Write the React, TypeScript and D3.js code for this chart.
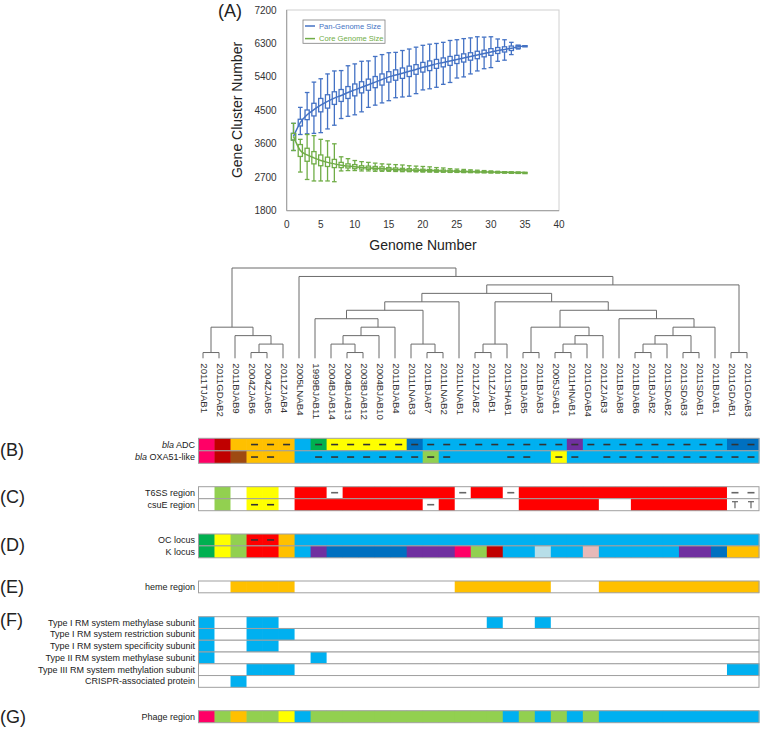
import React from "react";
import * as d3 from "d3";

// ---------- Panel A data ----------
const genomeNumbers = [1,2,3,4,5,6,7,8,9,10,11,12,13,14,15,16,17,18,19,20,21,22,23,24,25,26,27,28,29,30,31,32,33,34,35];
const panMedian = [3800,4170,4380,4520,4640,4740,4830,4900,4980,5050,5120,5190,5260,5330,5400,5450,5500,5550,5600,5660,5700,5750,5790,5830,5870,5910,5950,5990,6030,6070,6110,6140,6170,6210,6230];
const panQ3 = [3880,4260,4510,4690,4820,4920,5000,5060,5140,5210,5270,5340,5410,5480,5540,5590,5640,5690,5730,5790,5830,5870,5910,5950,5980,6020,6050,6090,6120,6160,6190,6210,6230,6250,6240];
const panQ1 = [3700,4080,4250,4350,4460,4560,4660,4740,4820,4890,4970,5040,5110,5180,5260,5310,5360,5410,5470,5530,5570,5630,5670,5710,5760,5800,5850,5890,5940,5980,6030,6070,6110,6170,6220];
const panMax = [4150,4580,4980,5260,5350,5480,5560,5570,5700,5750,5820,5830,5950,6000,6050,6060,6110,6150,6200,6250,6280,6300,6330,6380,6400,6430,6450,6480,6470,6480,6420,6400,6330,6250,6230];
const panMin = [3420,3850,3870,3880,3900,4000,4100,4280,4340,4380,4460,4580,4640,4700,4760,4840,4860,4880,4950,5050,5080,5120,5200,5250,5370,5400,5480,5560,5620,5650,5820,5850,6000,6150,6230];

const coreMedian = [3800,3420,3300,3220,3150,3100,3060,3020,3000,2980,2960,2950,2940,2930,2920,2910,2900,2895,2890,2885,2880,2875,2870,2865,2860,2855,2850,2845,2840,2838,2835,2833,2830,2828,2825];
const coreQ3 = [3880,3580,3480,3390,3300,3240,3180,3100,3060,3040,3010,3000,2990,2980,2960,2950,2940,2930,2925,2915,2910,2900,2895,2890,2880,2875,2870,2865,2860,2855,2850,2845,2840,2835,2830];
const coreQ1 = [3700,3260,3130,3060,3010,2990,2960,2960,2950,2930,2920,2910,2900,2890,2885,2875,2870,2865,2860,2855,2850,2850,2845,2840,2840,2835,2830,2830,2825,2822,2820,2820,2820,2820,2820];
const coreMax = [4150,3720,3850,3820,3720,3680,3600,3250,3200,3150,3120,3100,3080,3060,3050,3040,3030,3010,3000,2990,2980,2960,2950,2930,2920,2910,2900,2890,2880,2870,2860,2850,2845,2840,2830];
const coreMin = [3420,2840,2640,2600,2600,2600,2580,2870,2880,2880,2870,2870,2860,2860,2860,2855,2850,2850,2845,2840,2840,2835,2835,2830,2830,2825,2825,2820,2820,2815,2815,2815,2815,2815,2820];

const xTicks = [0,5,10,15,20,25,30,35,40];
const yTicks = [1800,2700,3600,4500,5400,6300,7200];
const seriesNames = ["Pan-Genome Size", "Core Genome Size"];

// ---------- Dendrogram ----------
const strainNames = ["2011TJAB1","2011GDAB2","2011BJAB9","2004ZJAB6","2004ZJAB5","2011ZJAB4","2005LNAB4","1999BJAB11","2004BJAB14","2004BJAB13","2003BJAB12","2004BJAB10","2011BJAB4","2011LNAB3","2011BJAB7","2011LNAB2","2011LNAB1","2011ZJAB2","2011ZJAB1","2011SHAB1","2011BJAB5","2011BJAB3","2005JSAB1","2011HNAB1","2011GDAB4","2011ZJAB3","2011BJAB8","2011BJAB6","2011BJAB2","2011SDAB2","2011SDAB3","2011SDAB1","2011BJAB1","2011GDAB1","2011GDAB3"];
const treeNewick = "(((0,1)1,(2,((3,4)1,5)2)3)4,(6,(((((7,(((8,(9,10)1)2,11)3,12)4)5,(13,(14,15)1)2)6,16)7,(((17,18)1,19)2,(((20,21)1,(((22,23)1,24)2,25)3)4,(26,((((27,28)1,29)2,(30,31)1)3,32)4)5)6)7)8,(33,34)1)9)10)11";

// ---------- Strip data ----------
const cellColors: Record<string, string> = {
  P: "#FF0066", R: "#C00000", O: "#FFC000", N: "#9E4A12", B: "#00B0F0", G: "#00B050",
  Y: "#FFFF00", D: "#0070C0", U: "#7030A0", L: "#92D050", E: "#FF0000", S: "#B7DEE8",
  K: "#E6B9B8", W: "#FFFFFF",
};
const blaADC = "PROOOOBGYYYYYDBBBBBBBBBUBBBBBBBBBDD";
const blaADCMarks = "...---.----------------------------";
const blaOXA = "PRNOOOBBBBBBBBLBBBBBBBYBBBBBBBBBBBB";
const blaOXAMarks = "...--..---------...--.--.----------";
const t6ss = "WLWYYWEEWEEEEEEEWEEWEEEEEEEEEEEEEWW";
const t6ssMarks = "........-.......-..-.............--";
const csuE = "WLWYYWEEEEEEEEWEWWWWEEEEEWWEEEEEEWW";
const csuEMarks = "...--.........-..................TT";
const ocLocus = "GYLEEOBBBBBBBBBBBBBBBBBBBBBBBBBBBBB";
const ocMarks = "...--..............................";
const kLocus = "GYLEEOBUDDDDDUUUPLRBBSBBKBBBBBUUDOO";
const hemeRegion = "WWOOOOWWWWWWWWWWOOOOOOWWWOOOOOOOOOO";
const rmType1Methylase = "BWWBBWWWWWWWWWWWWWBWWBWWWWWWWWWWWWW";
const rmType1Restriction = "BWWBBBWWWWWWWWWWWWWWWWWWWWWWWWWWWWW";
const rmType1Specificity = "BWWBBWWWWWWWWWWWWWWWWWWWWWWWWWWWWWW";
const rmType2Methylase = "BWWWWWWBWWWWWWWWWWWWWWWWWWWWWWWWWWW";
const rmType3Methylation = "WWWBBBWWWWWWWWWWWWWWWWWWWWWWWWWWWBB";
const crispr = "WWBWWWWWWWWWWWWWWWWWWWWWWWWWWWWWWWW";
const phageRegion = "PLOLLYBLLLLLLLLLLLLBLBLBLBBBBBBBBBB";

const FONT = "'Liberation Sans', Arial, Helvetica, sans-serif";

type TNode = { children?: TNode[]; h: number; leaf?: number; x?: number };
function parseNewick(s: string): TNode {
  let pos = 0;
  const readNum = () => {
    const st = pos;
    while (pos < s.length && /[0-9.]/.test(s[pos])) pos++;
    return +s.slice(st, pos);
  };
  const node = (): TNode => {
    if (s[pos] === "(") {
      pos++;
      const children = [node()];
      while (s[pos] === ",") { pos++; children.push(node()); }
      pos++;
      return { children, h: readNum() };
    }
    return { leaf: readNum(), h: 0 };
  };
  return node();
}

type RowDef = { label: React.ReactNode; colors: string; marks?: string };
type PanelDef = { tag: string; top: number; rowH: number; tagY: number; rows: RowDef[] };

export default function App() {
  // ---- Panel A scales ----
  const x = d3.scaleLinear().domain([0, 40]).range([286.7, 559]);
  const y = d3.scaleLinear().domain([1800, 7200]).range([210.7, 10]);
  const panColor = "#4472C4";
  const coreColor = "#70AD47";
  const line = d3.line<number>().x((_, i) => x(genomeNumbers[i])).y((d) => y(d)).curve(d3.curveMonotoneX);

  const boxW = 4.2;
  const capW = 4.6;
  const renderBoxes = (med: number[], q1: number[], q3: number[], mn: number[], mx: number[], color: string, key: string) => (
    <g key={key} stroke={color} strokeWidth={1.3} fill="none">
      {genomeNumbers.map((n, i) => {
        const cx = x(n);
        return (
          <g key={i}>
            <line x1={cx} x2={cx} y1={y(mx[i])} y2={y(q3[i])} />
            <line x1={cx} x2={cx} y1={y(q1[i])} y2={y(mn[i])} />
            <line x1={cx - capW / 2} x2={cx + capW / 2} y1={y(mx[i])} y2={y(mx[i])} />
            <line x1={cx - capW / 2} x2={cx + capW / 2} y1={y(mn[i])} y2={y(mn[i])} />
            <rect x={cx - boxW / 2} y={y(q3[i])} width={boxW} height={Math.max(1.2, y(q1[i]) - y(q3[i]))} />
          </g>
        );
      })}
    </g>
  );

  // ---- Dendrogram ----
  const leafX = d3.scaleLinear().domain([0, 34]).range([203, 747]);
  const yTree = d3.scaleLinear().domain([0, 11]).range([361, 268]);
  const leafBottom = 358.3;
  const root = d3.hierarchy(parseNewick(treeNewick), (d) => d.children);
  root.eachAfter((n) => {
    if (n.children) {
      n.data.x = (n.children[0].data.x! + n.children[n.children.length - 1].data.x!) / 2;
    } else {
      n.data.x = leafX(n.data.leaf!);
    }
  });
  const treeSegs: { x1: number; y1: number; x2: number; y2: number }[] = [];
  root.each((n) => {
    if (!n.children) return;
    const yh = yTree(n.data.h);
    treeSegs.push({ x1: n.children[0].data.x!, x2: n.children[n.children.length - 1].data.x!, y1: yh, y2: yh });
    n.children.forEach((c) => {
      const yc = c.children ? yTree(c.data.h) : leafBottom;
      treeSegs.push({ x1: c.data.x!, x2: c.data.x!, y1: yh, y2: yc });
    });
  });

  // ---- Strips ----
  const col = d3.scaleBand<number>().domain(d3.range(35)).range([198.5, 759]).paddingInner(0).paddingOuter(0);
  const bw = col.bandwidth();
  const panels: PanelDef[] = [
    { tag: "(B)", top: 438.3, rowH: 12.5, tagY: 450, rows: [
      { label: <><tspan fontStyle="italic">bla</tspan> ADC</>, colors: blaADC, marks: blaADCMarks },
      { label: <><tspan fontStyle="italic">bla</tspan> OXA51-like</>, colors: blaOXA, marks: blaOXAMarks },
    ]},
    { tag: "(C)", top: 486.7, rowH: 12, tagY: 497, rows: [
      { label: "T6SS region", colors: t6ss, marks: t6ssMarks },
      { label: "csuE region", colors: csuE, marks: csuEMarks },
    ]},
    { tag: "(D)", top: 534, rowH: 11.9, tagY: 545, rows: [
      { label: "OC locus", colors: ocLocus, marks: ocMarks },
      { label: "K locus", colors: kLocus },
    ]},
    { tag: "(E)", top: 581, rowH: 11.8, tagY: 587, rows: [
      { label: "heme region", colors: hemeRegion },
    ]},
    { tag: "(F)", top: 616.7, rowH: 11.77, tagY: 620, rows: [
      { label: "Type I RM system methylase subunit", colors: rmType1Methylase },
      { label: "Type I RM system restriction subunit", colors: rmType1Restriction },
      { label: "Type I RM system specificity subunit", colors: rmType1Specificity },
      { label: "Type II RM system methylase subunit", colors: rmType2Methylase },
      { label: "Type III RM system methylation subunit", colors: rmType3Methylation },
      { label: "CRISPR-associated protein", colors: crispr },
    ]},
    { tag: "(G)", top: 710.7, rowH: 12, tagY: 717, rows: [
      { label: "Phage region", colors: phageRegion },
    ]},
  ];

  return (
    <svg width={760} height={730} style={{ position: "absolute", left: 0, top: 0, display: "block" }} fontFamily={FONT}>
      <rect x={0} y={0} width={760} height={730} fill="#fff" />
      {/* Panel A */}
      <text x={218} y={11} fontSize={18} dominantBaseline="central" fill="#222">(A)</text>
      <rect x={286.7} y={10} width={559 - 286.7} height={200.7} fill="none" stroke="#D0D0D0" strokeWidth={1} />
      <line x1={286.7} x2={286.7} y1={10} y2={210.7} stroke="#9A9A9A" />
      <line x1={286.7} x2={559} y1={210.7} y2={210.7} stroke="#9A9A9A" />
      {yTicks.map((t) => (
        <text key={t} x={276.7} y={y(t)} fontSize={10} textAnchor="end" dominantBaseline="central" fill="#333">{t}</text>
      ))}
      {xTicks.map((t) => (
        <text key={t} x={x(t)} y={224} fontSize={10} textAnchor="middle" dominantBaseline="central" fill="#333">{t}</text>
      ))}
      <text transform="translate(237,110) rotate(-90)" fontSize={14} textAnchor="middle" dominantBaseline="central" fill="#222">Gene Cluster Number</text>
      <text x={423} y={250} fontSize={14} textAnchor="middle" fill="#222">Genome Number</text>
      {renderBoxes(panMedian, panQ1, panQ3, panMin, panMax, panColor, "pan")}
      <path d={line(panMedian) || ""} fill="none" stroke={panColor} strokeWidth={1.5} />
      {renderBoxes(coreMedian, coreQ1, coreQ3, coreMin, coreMax, coreColor, "core")}
      <path d={line(coreMedian) || ""} fill="none" stroke={coreColor} strokeWidth={1.5} />
      <rect x={303} y={20} width={82} height={23.3} fill="#fff" stroke="#7F7F7F" strokeWidth={0.8} />
      {seriesNames.map((s, i) => (
        <g key={s}>
          <line x1={305} x2={315} y1={26 + i * 12.6} y2={26 + i * 12.6} stroke={i === 0 ? panColor : coreColor} strokeWidth={1.5} />
          <text x={319} y={26 + i * 12.6} fontSize={7.6} dominantBaseline="central" fill={i === 0 ? panColor : coreColor}>{s}</text>
        </g>
      ))}

      {/* Dendrogram */}
      <g stroke="#6B6B6B" strokeWidth={1}>
        {treeSegs.map((s, i) => (
          <line key={i} x1={s.x1} x2={s.x2} y1={s.y1} y2={s.y2} />
        ))}
      </g>
      {strainNames.map((n, i) => (
        <text key={n} transform={`translate(${leafX(i) + 1},363.3) rotate(90)`} fontSize={9.7} dominantBaseline="central" fill="#333">{n}</text>
      ))}

      {/* Strips */}
      {panels.map((p) => (
        <g key={p.tag}>
          <text x={0} y={p.tagY} fontSize={18} dominantBaseline="central" fill="#222">{p.tag}</text>
          {p.rows.map((r, ri) => {
            const top = p.top + ri * p.rowH;
            return (
              <g key={ri}>
                <text x={195} y={top + p.rowH / 2} fontSize={9} textAnchor="end" dominantBaseline="central" fill="#222">{r.label}</text>
                {r.colors.split("").map((c, i) => (
                  <rect key={i} x={col(i)!} y={top} width={bw + 0.4} height={p.rowH} fill={cellColors[c]} />
                ))}
                {(r.marks || "").split("").map((m, i) => {
                  const cx = col(i)! + bw / 2;
                  const cy = top + p.rowH / 2;
                  const stroke = r.colors[i] === "W" ? "#666" : "#333";
                  if (m === "-") return <line key={i} x1={cx - 3.5} x2={cx + 3.5} y1={cy} y2={cy} stroke={stroke} strokeWidth={1.6} />;
                  if (m === "T") return (
                    <g key={i} stroke="#666" strokeWidth={1.2}>
                      <line x1={cx - 3} x2={cx + 3} y1={cy - 3} y2={cy - 3} />
                      <line x1={cx} x2={cx} y1={cy - 3} y2={cy + 3.5} />
                    </g>
                  );
                  return null;
                })}
                <rect x={col(0)!} y={top} width={col(34)! + bw - col(0)!} height={p.rowH} fill="none" stroke="#A0A0A0" strokeWidth={1} />
              </g>
            );
          })}
        </g>
      ))}
    </svg>
  );
}
